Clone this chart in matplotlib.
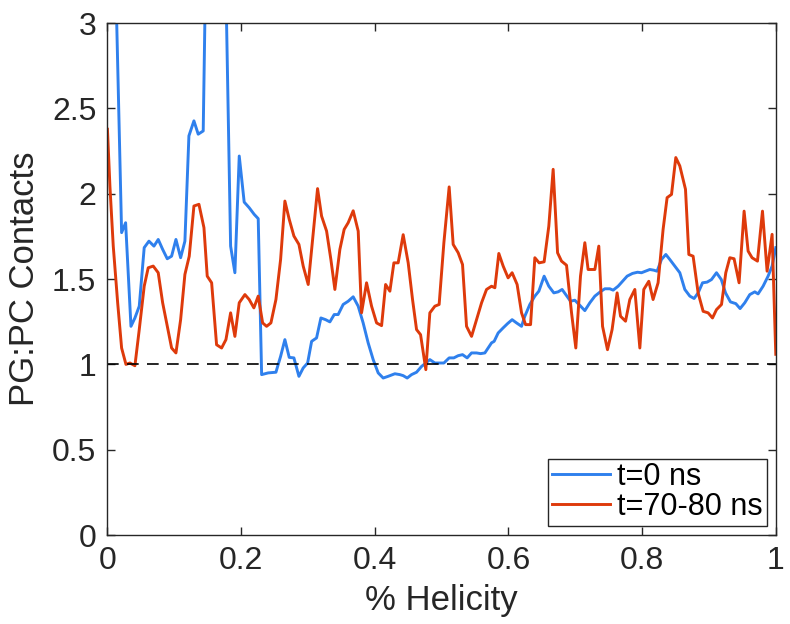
import matplotlib
matplotlib.use("Agg")
import matplotlib.pyplot as plt

plt.rcParams['font.family'] = ['Liberation Sans Narrow', 'Liberation Sans', 'DejaVu Sans']

# t=0 ns (blue); values above 3 run off the top of the axes
x_t0 = [0.000, 0.0067, 0.0127, 0.0212, 0.0272, 0.0352, 0.0411, 0.0476, 0.0550, 0.0621,
        0.0696, 0.0760, 0.0826, 0.0895, 0.0960, 0.1025, 0.1095, 0.1159, 0.1219, 0.1294,
        0.1358, 0.1433, 0.1496, 0.1563, 0.1638, 0.1713, 0.1843, 0.1907, 0.1972, 0.2046,
        0.2121, 0.2196, 0.2256, 0.2307, 0.2405, 0.2521, 0.2591, 0.2655, 0.2720, 0.2790,
        0.2865, 0.2929, 0.2995, 0.3055, 0.3129, 0.3194, 0.3264, 0.3328, 0.3393, 0.3452,
        0.3527, 0.3602, 0.3677, 0.3752, 0.3826, 0.3901, 0.3976, 0.4051, 0.4126, 0.4200,
        0.4301, 0.4375, 0.4425, 0.4485, 0.4550, 0.4625, 0.4700, 0.4764, 0.4824, 0.4899,
        0.4974, 0.5034, 0.5113, 0.5183, 0.5248, 0.5313, 0.5382, 0.5448, 0.5523, 0.5583,
        0.5647, 0.5696, 0.5747, 0.5786, 0.5846, 0.5921, 0.5987, 0.6055, 0.6121, 0.6196,
        0.6245, 0.6320, 0.6395, 0.6455, 0.6534, 0.6604, 0.6679, 0.6743, 0.6803, 0.6869,
        0.6929, 0.6993, 0.7068, 0.7143, 0.7218, 0.7293, 0.7367, 0.7442, 0.7517, 0.7567,
        0.7641, 0.7707, 0.7776, 0.7856, 0.7931, 0.7991, 0.8051, 0.8115, 0.8175, 0.8224,
        0.8290, 0.8355, 0.8414, 0.8489, 0.8564, 0.8639, 0.8714, 0.8778, 0.8838, 0.8904,
        0.8972, 0.9038, 0.9113, 0.9185, 0.9248, 0.9322, 0.9402, 0.9466, 0.9536, 0.9611,
        0.9686, 0.9735, 0.9810, 0.9885, 0.9945, 1.0000]
y_t0 = [4.50, 4.20, 3.20, 1.772, 1.830, 1.223, 1.272, 1.341, 1.684, 1.722,
        1.693, 1.732, 1.674, 1.619, 1.634, 1.732, 1.625, 1.722, 2.339, 2.427,
        2.349, 2.368, 4.00, 4.60, 4.60, 4.50, 1.693, 1.537, 2.221, 1.951,
        1.918, 1.879, 1.854, 0.940, 0.950, 0.954, 1.047, 1.145, 1.041, 1.038,
        0.930, 0.979, 1.008, 1.135, 1.155, 1.272, 1.262, 1.249, 1.292, 1.292,
        1.351, 1.370, 1.396, 1.341, 1.243, 1.126, 1.028, 0.950, 0.920, 0.930,
        0.945, 0.940, 0.934, 0.920, 0.940, 0.954, 0.988, 1.008, 1.028, 1.008,
        1.008, 1.008, 1.038, 1.038, 1.051, 1.057, 1.038, 1.067, 1.067, 1.063,
        1.067, 1.096, 1.126, 1.135, 1.184, 1.214, 1.239, 1.262, 1.243, 1.223,
        1.282, 1.351, 1.400, 1.429, 1.517, 1.458, 1.419, 1.425, 1.439, 1.403,
        1.370, 1.376, 1.346, 1.315, 1.361, 1.400, 1.423, 1.443, 1.443, 1.435,
        1.458, 1.487, 1.517, 1.533, 1.540, 1.537, 1.546, 1.556, 1.552, 1.546,
        1.615, 1.644, 1.615, 1.576, 1.537, 1.439, 1.400, 1.386, 1.419, 1.478,
        1.482, 1.497, 1.537, 1.497, 1.419, 1.366, 1.356, 1.327, 1.361, 1.409,
        1.425, 1.413, 1.458, 1.517, 1.576, 1.684]

# t=70-80 ns (red)
x_t70 = [0.000, 0.0037, 0.0087, 0.0153, 0.0212, 0.0277, 0.0337, 0.0411, 0.0476, 0.0550,
         0.0610, 0.0685, 0.0760, 0.0826, 0.0895, 0.0960, 0.1025, 0.1095, 0.1159, 0.1224,
         0.1294, 0.1369, 0.1444, 0.1493, 0.1559, 0.1633, 0.1708, 0.1773, 0.1843, 0.1907,
         0.1972, 0.2057, 0.2121, 0.2191, 0.2256, 0.2322, 0.2381, 0.2446, 0.2521, 0.2591,
         0.2655, 0.2720, 0.2790, 0.2865, 0.2929, 0.3004, 0.3079, 0.3144, 0.3204, 0.3279,
         0.3343, 0.3403, 0.3478, 0.3542, 0.3602, 0.3677, 0.3752, 0.3802, 0.3877, 0.3952,
         0.4027, 0.4102, 0.4162, 0.4226, 0.4286, 0.4350, 0.4425, 0.4500, 0.4565, 0.4625,
         0.4685, 0.4764, 0.4824, 0.4899, 0.4963, 0.5034, 0.5113, 0.5173, 0.5248, 0.5313,
         0.5373, 0.5448, 0.5523, 0.5598, 0.5672, 0.5747, 0.5797, 0.5856, 0.5921, 0.5995,
         0.6055, 0.6130, 0.6196, 0.6256, 0.6331, 0.6395, 0.6459, 0.6534, 0.6604, 0.6669,
         0.6735, 0.6794, 0.6869, 0.6944, 0.7008, 0.7078, 0.7143, 0.7192, 0.7293, 0.7352,
         0.7408, 0.7482, 0.7551, 0.7626, 0.7677, 0.7752, 0.7816, 0.7891, 0.7966, 0.8025,
         0.8100, 0.8164, 0.8239, 0.8314, 0.8374, 0.8440, 0.8504, 0.8564, 0.8649, 0.8699,
         0.8763, 0.8838, 0.8913, 0.8987, 0.9053, 0.9113, 0.9188, 0.9252, 0.9312, 0.9376,
         0.9451, 0.9526, 0.9586, 0.9645, 0.9726, 0.9801, 0.9870, 0.9945, 1.0000]
y_t70 = [2.378, 2.045, 1.693, 1.361, 1.096, 1.000, 1.008, 0.992, 1.204, 1.458,
         1.566, 1.576, 1.537, 1.361, 1.223, 1.096, 1.067, 1.262, 1.527, 1.634,
         1.928, 1.938, 1.801, 1.517, 1.478, 1.115, 1.096, 1.145, 1.302, 1.164,
         1.361, 1.409, 1.380, 1.331, 1.400, 1.243, 1.223, 1.243, 1.380, 1.615,
         1.957, 1.850, 1.752, 1.703, 1.576, 1.468, 1.772, 2.030, 1.869, 1.781,
         1.615, 1.439, 1.674, 1.791, 1.830, 1.900, 1.781, 1.302, 1.478, 1.341,
         1.243, 1.227, 1.468, 1.429, 1.595, 1.595, 1.760, 1.595, 1.380, 1.204,
         1.174, 0.969, 1.302, 1.341, 1.351, 1.713, 2.040, 1.703, 1.654, 1.585,
         1.223, 1.164, 1.262, 1.361, 1.439, 1.458, 1.449, 1.650, 1.576, 1.507,
         1.537, 1.468, 1.302, 1.233, 1.233, 1.625, 1.595, 1.601, 1.810, 2.143,
         1.654, 1.605, 1.581, 1.302, 1.096, 1.517, 1.713, 1.556, 1.556, 1.693,
         1.223, 1.086, 1.204, 1.419, 1.282, 1.253, 1.380, 1.439, 1.096, 1.439,
         1.487, 1.380, 1.478, 1.791, 1.977, 1.996, 2.212, 2.163, 2.026, 1.644,
         1.634, 1.419, 1.311, 1.302, 1.272, 1.321, 1.351, 1.537, 1.625, 1.619,
         1.478, 1.898, 1.664, 1.625, 1.605, 1.898, 1.546, 1.762, 1.059]

reference_level = 1.0

fig = plt.figure(figsize=(7.9, 6.24), dpi=100)
ax = fig.add_axes([0.136, 0.1426, 0.846, 0.8204])

ax.plot(x_t0, y_t0, color='#2F80ED', linewidth=2.1, label='t=0 ns')
ax.plot(x_t70, y_t70, color='#DE3A0B', linewidth=2.1, label='t=70-80 ns')
ax.axhline(reference_level, color='black', linewidth=1.2, linestyle=(0, (7, 5)))

ax.set_xlim(0, 1)
ax.set_ylim(0, 3)
ax.set_xticks([0, 0.2, 0.4, 0.6, 0.8, 1])
ax.set_xticklabels(['0', '0.2', '0.4', '0.6', '0.8', '1'])
ax.set_yticks([0, 0.5, 1, 1.5, 2, 2.5, 3])
ax.set_yticklabels(['0', '0.5', '1', '1.5', '2', '2.5', '3'])
ax.tick_params(direction='in', top=True, right=True, length=6, width=1,
               labelsize=23, colors='#262626', pad=8)
for s in ax.spines.values():
    s.set_color('#262626')
    s.set_linewidth(1.0)

ax.set_xlabel('% Helicity', fontsize=25, color='#262626', labelpad=6)
ax.set_ylabel('PG:PC Contacts', fontsize=25, color='#262626', labelpad=8)

leg = ax.legend(loc='lower right', fontsize=22, fancybox=False, framealpha=1,
                edgecolor='#262626', handlelength=1.9, handletextpad=0.25,
                borderpad=0.12, labelspacing=0.0, borderaxespad=0.3)
leg.get_frame().set_linewidth(1.0)

fig.savefig('out.png', dpi=100)
